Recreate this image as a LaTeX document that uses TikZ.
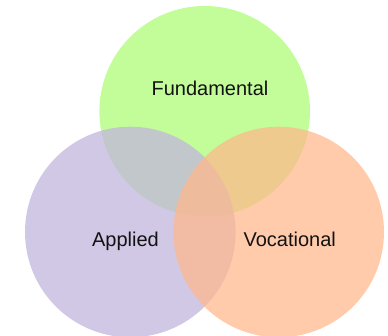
\documentclass[tikz,border=0pt]{standalone}
\usepackage{fontspec}
\setmainfont{Liberation Sans}
\definecolor{fundgreen}{RGB}{195,253,154}
\definecolor{applpurple}{RGB}{193,181,221}
\definecolor{vocorange}{RGB}{255,184,140}
\tikzset{
	set/.style={circle, minimum size=210.6pt, inner sep=0pt},
	setname/.style={anchor=base, text=black!93, font=\fontsize{20}{24}\selectfont}
}
\begin{document}
\begin{tikzpicture}[x=1pt, y=1pt]
					\useasboundingbox (0,0) rectangle (388,335);
					% the three sets
					\node[set, fill=fundgreen] (F)at(204.7, 223.7) {};
					\node[set, fill=applpurple, fill opacity=0.74] (A)at(130.3, 103) {};
					\node[set, fill=vocorange, fill opacity=0.73] (V)at(278.7, 103) {};
					% names
					\node[setname] (Fname)at(210, 239) {Fundamental};
					\node[setname] (Aname)at(125.5, 88.3) {Applied};
					\node[setname] (Vname)at(289.7, 88.3) {Vocational};
				\end{tikzpicture}
\end{document}
